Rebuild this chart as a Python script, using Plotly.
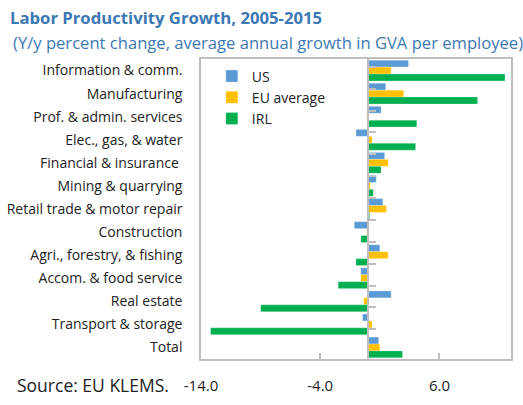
import plotly.graph_objects as go

categories = ["Information & comm.", "Manufacturing", "Prof. & admin. services",
              "Elec., gas, & water", "Financial & insurance ", "Mining & quarrying",
              "Retail trade & motor repair", "Construction", "Agri., forestry, & fishing",
              "Accom. & food service", "Real estate", "Transport & storage", "Total"]
us = [3.4, 1.5, 1.1, -1.0, 1.4, 0.7, 1.25, -1.15, 1.0, -0.6, 1.95, -0.45, 0.9]
eu = [1.95, 3.0, -0.1, 0.35, 1.7, 0.2, 1.55, -0.1, 1.7, -0.6, -0.35, 0.35, 1.0]
irl = [11.5, 9.2, 4.1, 4.0, 1.1, 0.45, 0.15, -0.6, -1.0, -2.5, -9.0, -13.2, 2.9]
x_ticks = [-14, -4, 6]
x_range = [-14, 12]

FONT = "Open Sans"
fig = go.Figure()
for name, vals, col in [("US", us, "#5B9BD5"), ("EU average", eu, "#FFC000"), ("IRL", irl, "#00B050")]:
    fig.add_trace(go.Bar(y=categories, x=vals, name=name, orientation="h",
                         marker=dict(color=col, line=dict(color="rgba(255,255,255,0.5)", width=0.5))))
# invisible trace for the zero-positioned category axis
fig.add_trace(go.Scatter(y=categories, x=[0]*len(categories), yaxis="y2", mode="markers",
                         marker=dict(opacity=0), showlegend=False, hoverinfo="skip"))

zero_pos = (0 - x_range[0]) / (x_range[1] - x_range[0])
L, R, T, B = 201, 12, 59, 46
PW, PH = 523 - L - R, 405 - T - B
fig.update_layout(
    width=523, height=405,
    margin=dict(l=L, r=R, t=T, b=B, autoexpand=False),
    paper_bgcolor="white", plot_bgcolor="white",
    font=dict(family=FONT, color="#222222"),
    barmode="group", bargap=0.1, bargroupgap=0.0,
    showlegend=True,
    legend=dict(x=0.035, y=0.995, xanchor="left", yanchor="top", bgcolor="rgba(0,0,0,0)",
                font=dict(size=14, family=FONT), tracegroupgap=0, itemwidth=30),
    xaxis=dict(range=x_range, tickvals=x_ticks, ticktext=["-14.0", "-4.0", "6.0"],
               showgrid=False, zeroline=False, showline=True, mirror=True,
               linecolor="#BFBFBF", linewidth=1.5, ticks="inside", ticklen=6,
               tickcolor="#BFBFBF", tickwidth=1.5, tickfont=dict(size=15, family=FONT),
               ticklabelstandoff=12),
    yaxis=dict(autorange="reversed", showgrid=False, zeroline=False, showline=True,
               mirror=True, linecolor="#BFBFBF", linewidth=1.5, ticks="",
               tickfont=dict(size=14, family=FONT), ticklabelstandoff=14),
    yaxis2=dict(overlaying="y", anchor="free", position=zero_pos, side="right",
                autorange="reversed", showgrid=False, zeroline=False, showline=True,
                linecolor="#BFBFBF", linewidth=1.5, ticks="outside", ticklen=7,
                tickcolor="#BFBFBF", tickwidth=1.5, tickson="boundaries",
                showticklabels=False),
)
fig.add_annotation(text="<b>Labor Productivity Growth, 2005-2015</b>", xref="paper", yref="paper",
                   x=(8 - L) / PW, y=1 + (T - 18) / PH, xanchor="left", yanchor="middle",
                   showarrow=False, font=dict(size=16.7, color="#3C78B4", family=FONT))
fig.add_annotation(text="(Y/y percent change, average annual growth in GVA per employee)",
                   xref="paper", yref="paper",
                   x=(11 - L) / PW, y=1 + (T - 42) / PH, xanchor="left", yanchor="middle",
                   showarrow=False, font=dict(size=16.6, color="#3C78B4", family=FONT))
fig.add_annotation(text="Source: EU KLEMS.", xref="paper", yref="paper",
                   x=(15 - L) / PW, y=-(385 - (405 - B)) / PH, xanchor="left", yanchor="middle",
                   showarrow=False, font=dict(size=17.5, color="#222222", family=FONT))
fig.write_html("out.html", config={"displayModeBar": False},
               post_script="document.body.style.margin='0';document.body.style.overflow='hidden';")
